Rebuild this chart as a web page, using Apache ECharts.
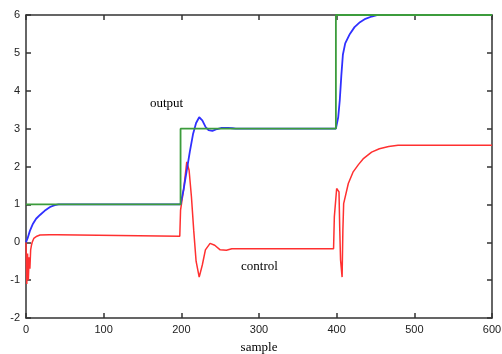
<!DOCTYPE html>
<html>
<head>
<meta charset="utf-8">
<script src="https://cdn.jsdelivr.net/npm/echarts@6/dist/echarts.min.js"></script>
<style>
  html, body { margin: 0; padding: 0; background: #fff; }
  #chart { width: 502px; height: 354px; }
</style>
</head>
<body>
<div id="chart"></div>
<script>
// setpoint (green)
const setpointX = [0, 199, 199, 399, 399, 600];
const setpointY = [1, 1, 3, 3, 6, 6];

// output (blue)
const outputX = [0, 2, 5, 9, 13, 18, 24, 31, 37, 42, 199, 200, 203, 207, 211, 215, 219, 223, 227, 231, 235, 240, 246, 252, 260, 266, 270,
  399, 400, 402, 404, 406, 408, 411, 417, 423, 430, 437, 445, 453, 600];
const outputY = [0, 0.1, 0.3, 0.49, 0.62, 0.72, 0.83, 0.93, 0.98, 1.0, 1.0, 1.0, 1.4, 1.9, 2.4, 2.85, 3.15, 3.3, 3.22, 3.05, 2.96, 2.94, 2.99, 3.02, 3.02, 3.01, 3.0,
  3.0, 3.0, 3.3, 3.75, 4.4, 4.95, 5.25, 5.5, 5.68, 5.81, 5.9, 5.96, 6.0, 6.0];

// control (red)
const controlX = [0, 1, 2, 3, 4, 5, 6, 7, 8, 10, 14, 18, 30, 40, 42, 198, 199, 203, 207, 210, 213, 216, 219, 223, 227, 231, 237, 243, 250, 258, 265,
  396, 397, 400, 403, 404, 405, 407, 408, 409, 415, 421, 428, 434, 445, 455, 467, 479, 600];
const controlY = [0, -1.1, -0.3, -1.0, -0.4, -0.7, -0.2, -0.08, 0.0, 0.1, 0.16, 0.19, 0.2, 0.2, 0.16, 0.16, 0.85, 1.4, 2.12, 1.9, 1.2, 0.3, -0.5, -0.92, -0.6, -0.2, -0.03, -0.08, -0.2, -0.21, -0.17,
  -0.17, 0.67, 1.42, 1.33, 0.32, -0.47, -0.92, 0.32, 1.02, 1.55, 1.85, 2.05, 2.2, 2.38, 2.47, 2.53, 2.56, 2.56];

const xTicks = [0, 100, 200, 300, 400, 500, 600];
const yTicks = [-2, -1, 0, 1, 2, 3, 4, 5, 6];

const zip = (xs, ys) => xs.map((x, i) => [x, ys[i]]);

const chart = echarts.init(document.getElementById('chart'));

// MATLAB-style box: every side gets a line and inward ticks
const frameAxis = () => ({
  axisLine: { show: true, onZero: false, lineStyle: { color: '#333', width: 1.5 } },
  axisTick: { show: true, inside: true, length: 5, lineStyle: { color: '#333', width: 1.5 } },
  splitLine: { show: false }
});
const labelFont = { fontFamily: 'Liberation Sans', fontSize: 11, color: '#222' };

chart.setOption({
  animation: false,
  grid: { left: 26, right: 10, top: 15, bottom: 36, containLabel: false, outerBoundsMode: 'none' },
  xAxis: [
    Object.assign(frameAxis(), {
      type: 'value', min: xTicks[0], max: xTicks[xTicks.length - 1], interval: 100, position: 'bottom',
      axisLabel: Object.assign({ margin: 6 }, labelFont),
      name: 'sample', nameLocation: 'middle', nameGap: 23,
      nameTextStyle: { fontFamily: 'Liberation Serif', fontSize: 13, color: '#000' }
    }),
    Object.assign(frameAxis(), {
      type: 'value', min: xTicks[0], max: xTicks[xTicks.length - 1], interval: 100, position: 'top',
      axisLabel: { show: false }
    })
  ],
  yAxis: [
    Object.assign(frameAxis(), {
      type: 'value', min: yTicks[0], max: yTicks[yTicks.length - 1], interval: 1, position: 'left',
      axisLabel: Object.assign({ margin: 6 }, labelFont)
    }),
    Object.assign(frameAxis(), {
      type: 'value', min: yTicks[0], max: yTicks[yTicks.length - 1], interval: 1, position: 'right',
      axisLabel: { show: false }
    })
  ],
  graphic: [
    { type: 'text', left: 150, top: 97, style: { text: 'output', fontFamily: 'Liberation Serif', fontSize: 13, fill: '#000' } },
    { type: 'text', left: 241, top: 260, style: { text: 'control', fontFamily: 'Liberation Serif', fontSize: 13, fill: '#000' } }
  ],
  series: [
    {
      name: 'control', type: 'line', data: zip(controlX, controlY), showSymbol: false,
      lineStyle: { color: '#ff3030', width: 1.5 }
    },
    {
      name: 'output', type: 'line', data: zip(outputX, outputY), showSymbol: false,
      lineStyle: { color: '#3030ff', width: 1.8 }
    },
    {
      name: 'setpoint', type: 'line', data: zip(setpointX, setpointY), showSymbol: false,
      lineStyle: { color: '#3c9c3c', width: 1.8 }
    }
  ]
});
</script>
</body>
</html>
